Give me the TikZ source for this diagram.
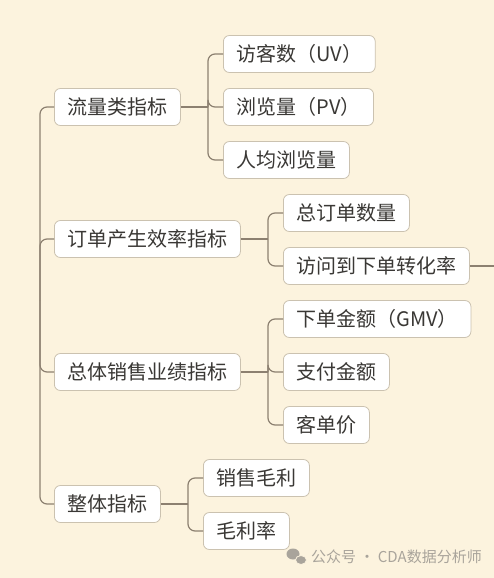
\documentclass[tikz,border=0pt]{standalone}
\usepackage{fontspec}
\setmainfont{Noto Sans CJK SC}
\definecolor{paper}{HTML}{FCF3DE}
\definecolor{boxline}{HTML}{CBC2B0}
\definecolor{branch}{HTML}{8C8070}
\definecolor{ink}{HTML}{3A3835}
\definecolor{wmgray}{HTML}{A9A49B}
\begin{document}
\begin{tikzpicture}[x=1pt,y=-1pt,
  item/.style={draw=boxline,fill=white,rounded corners=6pt,line width=0.8pt,
    minimum height=37pt,inner xsep=13pt,anchor=west,text=ink,
    font=\fontsize{20}{24}\selectfont},
  link/.style={draw=branch,line width=1.2pt,rounded corners=7pt}]
\useasboundingbox[fill=paper] (0,0) rectangle (494,578);
\node[item] (liuliang) at (54,107) {流量类指标};
\node[item] (dingdan) at (54,239) {订单产生效率指标};
\node[item] (xiaoshou) at (54,372) {总体销售业绩指标};
\node[item] (zhengti) at (54,504) {整体指标};
\node[item] (uv) at (223,54) {访客数（UV）};
\node[item] (pv) at (223,107) {浏览量（PV）};
\node[item] (avgpv) at (223,160) {人均浏览量};
\node[item] (zongdan) at (283,213) {总订单数量};
\node[item] (zhuanhua) at (283,266) {访问到下单转化率};
\node[item] (gmv) at (283,319) {下单金额（GMV）};
\node[item] (zhifu) at (283,372) {支付金额};
\node[item] (kedan) at (283,425) {客单价};
\node[item] (maoli) at (203,478) {销售毛利};
\node[item] (maolilv) at (203,531) {毛利率};
\coordinate (trunk) at (40,300);
\foreach \n in {liuliang,dingdan,xiaoshou,zhengti}
  \draw[link] (trunk) |- (\n.west);
\coordinate (b1) at (208,107);
\coordinate (b2) at (268,239);
\coordinate (b3) at (268,372);
\coordinate (b4) at (188,504);
\draw[link] (liuliang.east) -- (b1);
\draw[link] (dingdan.east) -- (b2);
\draw[link] (xiaoshou.east) -- (b3);
\draw[link] (zhengti.east) -- (b4);
\foreach \n in {uv,pv,avgpv} \draw[link] (b1) |- (\n.west);
\foreach \n in {zongdan,zhuanhua} \draw[link] (b2) |- (\n.west);
\foreach \n in {gmv,zhifu,kedan} \draw[link] (b3) |- (\n.west);
\foreach \n in {maoli,maolilv} \draw[link] (b4) |- (\n.west);
\coordinate (edge) at (494,266);
\draw[link] (zhuanhua.east) -- (edge);
% watermark
\fill[wmgray] (293,554) ellipse (6.5 and 5.5);
\filldraw[fill=wmgray,draw=paper,line width=0.8pt] (301,560) ellipse (5.5 and 4.5);
\node[anchor=west,text=wmgray,font=\fontsize{15}{18}\selectfont,inner sep=0pt]
  (wm) at (311,557) {公众号 · CDA数据分析师};
\end{tikzpicture}
\end{document}
